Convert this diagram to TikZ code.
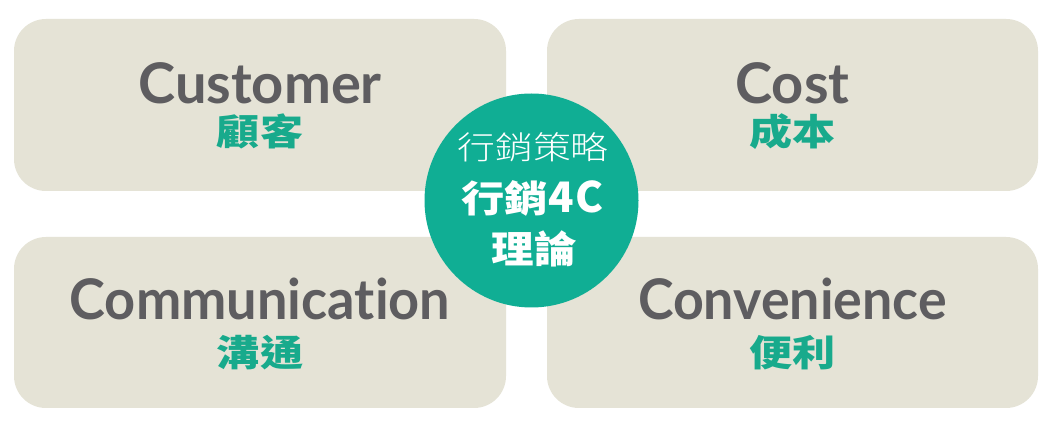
\documentclass[tikz,border=0pt]{standalone}
\usepackage{fontspec}
\usepackage{graphicx}
\setmainfont{Lato}[Ligatures=NoCommon]
\newfontfamily\cjk{Noto Sans CJK TC}
\newfontfamily\cjklight{Noto Sans CJK TC Light}
\definecolor{boxbeige}{RGB}{229,227,214}
\definecolor{graytext}{RGB}{94,93,96}
\definecolor{greentext}{RGB}{24,170,140}
\definecolor{teal}{RGB}{16,174,148}
\begin{document}
\begin{tikzpicture}[x=1pt,y=-1pt,
  box/.style={rectangle, rounded corners=32pt, fill=boxbeige, draw=none, inner sep=0pt},
  en/.style={text=graytext, font=\fontsize{56}{60}\selectfont\bfseries, inner sep=0pt, anchor=base},
  zh/.style={text=greentext, font=\cjk\fontsize{36.5}{40}\selectfont\bfseries, inner sep=0pt, anchor=base, text height=28pt, text depth=2pt},
  hub/.style={circle, fill=teal, draw=none, minimum size=214pt, inner sep=0pt},
  hubtext/.style={text=white, inner sep=0pt, anchor=base, text height=28pt, text depth=2pt}
]
\useasboundingbox[fill=white] (0,0) rectangle (1063,427);
% boxes
\node[box, minimum width=492pt, minimum height=172pt] (cust) at (260,105) {};
\node[box, minimum width=491pt, minimum height=172pt] (cost) at (792.5,105) {};
\node[box, minimum width=492pt, minimum height=171pt] (comm) at (260,322.5) {};
\node[box, minimum width=491pt, minimum height=171pt] (conv) at (792.5,322.5) {};
% English labels
\node[en] (custEn) at ([yshift=-85pt]cust.north) {Customer};
\node[en] (costEn) at ([yshift=-85pt]cost.north) {Cost};
\node[en] (commEn) at ([yshift=-83pt]comm.north) {\scalebox{0.967}[1]{Communication}};
\node[en] (convEn) at ([yshift=-83pt]conv.north) {\scalebox{0.96}[1]{Convenience}};
% Chinese labels
\node[zh] (custZh) at ([yshift=-127pt]cust.north) {\scalebox{1.18}[1]{顧客}};
\node[zh] (costZh) at ([yshift=-127pt]cost.north) {\scalebox{1.18}[1]{成本}};
\node[zh] (commZh) at ([yshift=-130pt]comm.north) {\scalebox{1.18}[1]{溝通}};
\node[zh] (convZh) at ([yshift=-130pt]conv.north) {\scalebox{1.18}[1]{便利}};
% hub
\node[hub] (hub) at (531.5,200.5) {};
\node[hubtext, font=\cjklight\fontsize{32}{34}\selectfont] (hubA) at (533,160) {\scalebox{1.18}[1]{行銷策略}};
\node[hubtext, font=\cjk\bfseries\fontsize{37}{40}\selectfont] (hubB) at (532.5,213) {\scalebox{1.17}[1]{行銷}{\fontsize{42}{44}\selectfont\hspace{1pt}4\hspace{1pt}C}};
\node[hubtext, font=\cjk\bfseries\fontsize{38}{40}\selectfont] (hubC) at (534,264) {\scalebox{1.12}[1]{理論}};
\end{tikzpicture}
\end{document}
